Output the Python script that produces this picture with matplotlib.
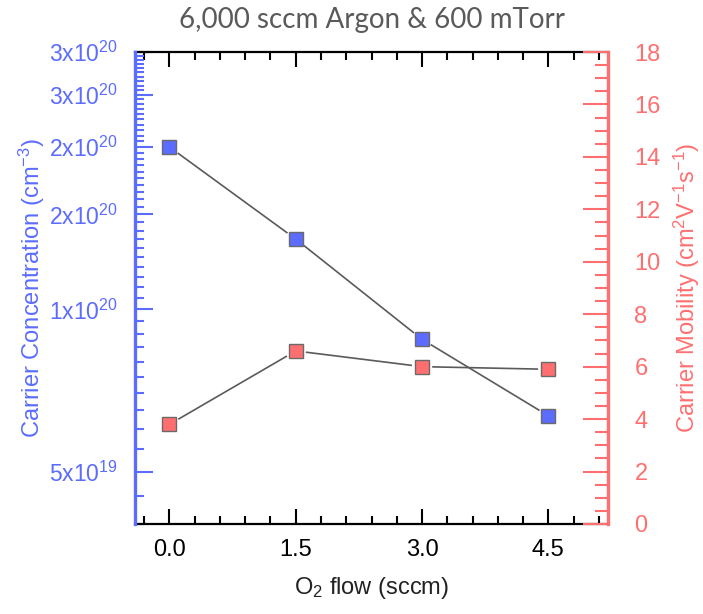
import numpy as np
import matplotlib
matplotlib.use("Agg")
import matplotlib.pyplot as plt
from matplotlib.ticker import FixedLocator, MultipleLocator, NullFormatter

plt.rcParams['font.family'] = ['Liberation Sans', 'DejaVu Sans']
plt.rcParams['mathtext.fontset'] = 'custom'
plt.rcParams['mathtext.rm'] = 'Liberation Sans'
plt.rcParams['mathtext.it'] = 'Liberation Sans'

# data
o2_flow = [0.0, 1.5, 3.0, 4.5]
carrier_conc = [2.0e20, 1.35e20, 8.8e19, 6.35e19]   # cm^-3
mobility = [3.8, 6.6, 6.0, 5.9]                     # cm^2 V^-1 s^-1

conc_ticks = [5e19, 1e20, 1.5e20, 2e20, 2.5e20, 3e20]
conc_ticklabels = [r'5x10$^{19}$', r'1x10$^{20}$', r'2x10$^{20}$',
                   r'2x10$^{20}$', r'3x10$^{20}$', r'3x10$^{20}$']
flow_ticks = [0.0, 1.5, 3.0, 4.5]
flow_ticklabels = ['0.0', '1.5', '3.0', '4.5']

BLUE = '#5b6cff'
RED = '#ff6f6f'
LINE = '#5a5a5a'
EDGE = '#6a6a6a'

fig = plt.figure(figsize=(7.03, 6.14), dpi=100)
ax = fig.add_axes([0.1920, 0.1466, 0.6729, 0.7687])
ax2 = ax.twinx()

# ---- left axis: concentration (log) ----
ax.set_yscale('log')
ax.set_xlim(-0.41, 5.21)
ax.set_ylim(4e19, 3.0005e20)
ax.yaxis.set_major_locator(FixedLocator(conc_ticks))
ax.set_yticklabels(conc_ticklabels)
ax.yaxis.set_minor_locator(FixedLocator(np.arange(40, 301, 5) * 1e18))
ax.yaxis.set_minor_formatter(NullFormatter())

ax.xaxis.set_major_locator(FixedLocator(flow_ticks))
ax.set_xticklabels(flow_ticklabels)
ax.xaxis.set_minor_locator(MultipleLocator(0.3))

ax.tick_params(axis='x', which='both', direction='in', top=True, bottom=True,
               color='black', width=1.5, labelsize=17, pad=11)
ax.tick_params(axis='x', which='major', length=10.8)
ax.tick_params(axis='x', which='minor', length=5.8)
ax.tick_params(axis='y', which='both', direction='in', left=True, right=False,
               color=BLUE, labelcolor=BLUE, width=1.5, labelsize=16.5, pad=12)
ax.tick_params(axis='y', which='major', length=13)
ax.tick_params(axis='y', which='minor', length=6.5)

for side in ['top', 'bottom']:
    ax.spines[side].set_color('black')
    ax.spines[side].set_linewidth(1.6)
    ax.spines[side].set_zorder(2.2)
ax.spines['left'].set_color(BLUE)
ax.spines['left'].set_linewidth(2.4)
ax.spines['right'].set_visible(False)

ax.set_ylabel(r'Carrier Concentration (cm$^{-3}$)', color=BLUE, fontsize=17,
              labelpad=2)
ax.set_xlabel(r'O$_2$ flow (sccm)', color='#222222', fontsize=17, labelpad=10)

# ---- right axis: mobility ----
ax2.set_ylim(0, 18)
ax2.yaxis.set_major_locator(MultipleLocator(2))
ax2.yaxis.set_minor_locator(MultipleLocator(0.5))
ax2.tick_params(axis='y', which='both', direction='in', right=True, left=False,
                color=RED, labelcolor=RED, width=1.5, labelsize=17, pad=19)
ax2.tick_params(axis='y', which='major', length=18)
ax2.tick_params(axis='y', which='minor', length=9.4)
for side in ['top', 'bottom', 'left']:
    ax2.spines[side].set_visible(False)
ax2.spines['right'].set_color(RED)
ax2.spines['right'].set_linewidth(2.4)
ax2.set_ylabel(r'Carrier Mobility (cm$^2$V$^{-1}$s$^{-1}$)', color=RED,
               fontsize=17, labelpad=8)


def gapped_line(axis, xs, ys, gap=11, **kw):
    # connect points with segments that stop short of each marker
    tr = axis.transData
    pts = tr.transform(np.column_stack([xs, ys]))
    for p0, p1 in zip(pts[:-1], pts[1:]):
        d = p1 - p0
        u = d / np.hypot(*d)
        seg = np.array([p0 + u * gap, p1 - u * gap])
        seg = tr.inverted().transform(seg)
        axis.plot(seg[:, 0], seg[:, 1], **kw)


gapped_line(ax, o2_flow, carrier_conc, color=LINE, lw=1.2, zorder=2)
ax.plot(o2_flow, carrier_conc, ls='none', marker='s', ms=10.5,
        mfc=BLUE, mec=EDGE, mew=1.0, zorder=3)

gapped_line(ax2, o2_flow, mobility, color=LINE, lw=1.2, zorder=2)
ax2.plot(o2_flow, mobility, ls='none', marker='s', ms=10.5,
         mfc=RED, mec=EDGE, mew=1.0, zorder=3)

fig.text(0.5285, 0.967, '6,000 sccm Argon & 600 mTorr', ha='center',
         va='center', fontsize=20, color='#5a5a5a', family=['Lato', 'DejaVu Sans'])

fig.savefig('out.png', dpi=100)
